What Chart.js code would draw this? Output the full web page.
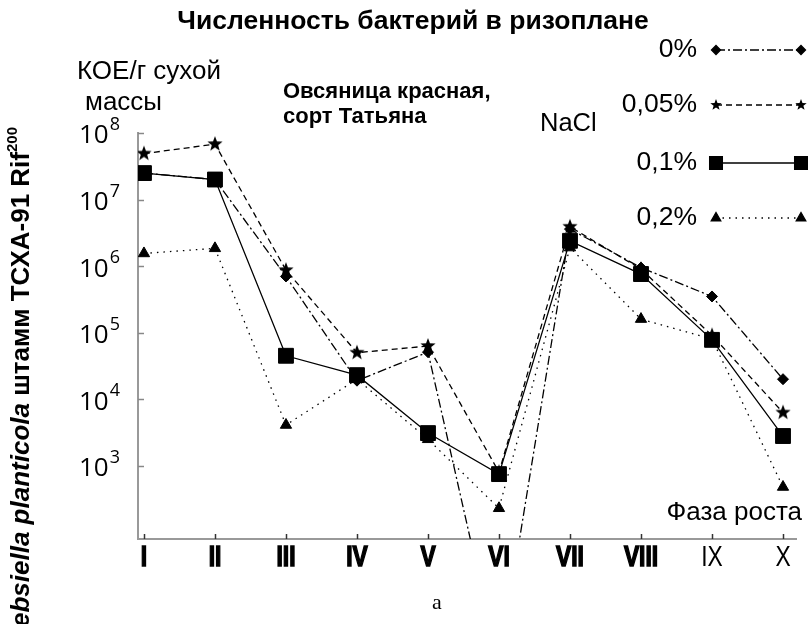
<!DOCTYPE html>
<html>
<head>
<meta charset="utf-8">
<script src="https://cdn.jsdelivr.net/npm/chart.js@4.4.1/dist/chart.umd.min.js"></script>
<style>
  html, body { margin: 0; padding: 0; background: #fff; }
  #wrap { width: 808px; height: 624px; position: relative; }
</style>
</head>
<body>
<div id="wrap"><canvas id="chart"></canvas></div>
<script>
// growth phases (x axis)
const phases = ['I', 'II', 'III', 'IV', 'V', 'VI', 'VII', 'VIII', 'IX', 'X'];
// decades shown on the y axis
const decades = [3, 4, 5, 6, 7, 8];
// CFU per g dry mass, one array per NaCl concentration
const nacl0   = [2.5e7, 2.0e7, 7.0e5, 1.9e4, 5.1e4, 1,     3.6e6, 9.5e5, 3.5e5, 2.0e4];
const nacl005 = [4.9e7, 6.8e7, 8.7e5, 5.0e4, 6.3e4, 8.0e2, 3.9e6, 9.0e5, 9.1e4, 6.3e3];
const nacl01  = [2.5e7, 2.0e7, 4.5e4, 2.3e4, 3.1e3, 7.5e2, 2.4e6, 7.6e5, 7.8e4, 2.8e3];
const nacl02  = [1.55e6, 1.85e6, 4.1e3, 2.0e4, 2.5e3, 2.3e2, 1.9e6, 1.6e5, 8.0e4, 4.8e2];
const seriesLabels = ['0%', '0,05%', '0,1%', '0,2%'];

const SANS = '"Liberation Sans", Arial, sans-serif';

function toPoints(arr) {
  return arr.map((v, i) => ({ x: i + 1, y: v }));
}

// filled five-point star as a point style
function makeStar(r) {
  const c = document.createElement('canvas');
  c.width = c.height = Math.ceil(2 * r + 2);
  const g = c.getContext('2d');
  const cx = c.width / 2, cy = c.height / 2;
  g.beginPath();
  for (let i = 0; i < 10; i++) {
    const rr = i % 2 === 0 ? r : r * 0.42;
    const a = -Math.PI / 2 + i * Math.PI / 5;
    g.lineTo(cx + rr * Math.cos(a), cy + rr * Math.sin(a));
  }
  g.closePath();
  g.fillStyle = '#000';
  g.fill();
  return c;
}
const starBig = makeStar(8);
const starSmall = makeStar(6);

const styles = [
  { dash: [9, 3, 2, 3], point: 'rectRot', radius: 5.5, legendPoint: 'rectRot', legendRadius: 4.5 },
  { dash: [6, 4], point: starBig, radius: 8, legendPoint: starSmall, legendRadius: 6 },
  { dash: [], point: 'rect', radius: 10.5, legendPoint: 'rect', legendRadius: 9 },
  { dash: [1.5, 5], point: 'triangle', radius: 6.5, legendPoint: 'triangle', legendRadius: 5.5 }
];

const allSeries = [nacl0, nacl005, nacl01, nacl02];
const datasets = allSeries.map((arr, i) => ({
  label: seriesLabels[i],
  data: toPoints(arr),
  borderColor: '#000',
  borderWidth: 1.3,
  borderDash: styles[i].dash,
  pointStyle: styles[i].point,
  pointRadius: styles[i].radius,
  pointBackgroundColor: '#000',
  pointBorderColor: '#000',
  pointBorderWidth: 1,
  tension: 0,
  fill: false
}));

// text squeezed horizontally, like a narrow typeface; optional stroke makes it heavier
function narrowText(ctx, text, x, y, sx, heavy) {
  ctx.save();
  ctx.translate(x, y);
  ctx.scale(sx, 1);
  ctx.fillText(text, 0, 0);
  if (heavy) {
    ctx.lineWidth = heavy;
    ctx.strokeStyle = '#000';
    ctx.setLineDash([]);
    ctx.strokeText(text, 0, 0);
  }
  ctx.restore();
}

const textPlugin = {
  id: 'figureText',
  afterDraw(chart) {
    const ctx = chart.ctx;
    const xs = chart.scales.x, ys = chart.scales.y;
    const area = chart.chartArea;
    ctx.save();
    ctx.fillStyle = '#000';

    // inward ticks
    ctx.strokeStyle = '#888';
    ctx.lineWidth = 1.5;
    ctx.setLineDash([]);
    decades.forEach(d => {
      const y = Math.round(ys.getPixelForValue(Math.pow(10, d))) + 0.5;
      ctx.beginPath(); ctx.moveTo(area.left, y); ctx.lineTo(area.left + 6, y); ctx.stroke();
    });
    ctx.strokeStyle = '#333';
    phases.forEach((p, i) => {
      const x = Math.round(xs.getPixelForValue(i + 1)) + 0.5;
      ctx.beginPath(); ctx.moveTo(x, area.bottom); ctx.lineTo(x, area.bottom - 5); ctx.stroke();
    });

    // y tick labels 10^n
    ctx.textBaseline = 'middle';
    ctx.textAlign = 'left';
    decades.forEach(d => {
      const y = ys.getPixelForValue(Math.pow(10, d));
      ctx.font = '26px "Open Sans", sans-serif';
      ctx.fillText('10', 79, y + 3);
      const w = ctx.measureText('10').width;
      ctx.font = '18px "Open Sans", sans-serif';
      ctx.fillText(String(d), 79 + w + 1, y - 8);
    });

    // x tick labels (IX and X are plain in the original)
    ctx.textAlign = 'center';
    phases.forEach((p, i) => {
      const x = xs.getPixelForValue(i + 1);
      const plain = i >= 8;
      ctx.font = (plain ? '' : 'bold ') + '30px ' + SANS;
      narrowText(ctx, p, x, area.bottom + 19, 0.76, plain ? 0 : 1.6);
    });

    // title and annotations
    ctx.font = 'bold 26.5px ' + SANS;
    ctx.fillText('Численность бактерий в ризоплане', 413, 22);
    ctx.textAlign = 'left';
    ctx.font = '26px ' + SANS;
    ctx.fillText('КОЕ/г сухой', 77, 72);
    ctx.fillText('массы', 85, 103);
    ctx.font = 'bold 22px ' + SANS;
    ctx.fillText('Овсяница красная,', 283, 92);
    ctx.fillText('сорт Татьяна', 283, 117);
    ctx.font = '25.5px ' + SANS;
    ctx.fillText('NaCl', 540, 124);
    ctx.textAlign = 'right';
    ctx.font = '26px ' + SANS;
    ctx.fillText('Фаза роста', 802, 513);

    // panel letter
    ctx.textAlign = 'center';
    ctx.font = '22px "Liberation Serif", serif';
    ctx.fillText('а', 437, 603);

    // rotated y axis title
    ctx.save();
    ctx.translate(22, 127);
    ctx.rotate(-Math.PI / 2);
    ctx.textAlign = 'left';
    const parts = [
      { t: 'Klebsiella planticola', f: 'italic bold 26px ' + SANS, dy: 0 },
      { t: ' штамм ТСХА-91 Rif', f: 'bold 26px ' + SANS, dy: 0 },
      { t: '200', f: 'bold 15px ' + SANS, dy: -9 }
    ];
    let total = 0;
    parts.forEach(p => { ctx.font = p.f; p.w = ctx.measureText(p.t).width; total += p.w; });
    let px = -total;
    parts.forEach(p => { ctx.font = p.f; ctx.fillText(p.t, px, p.dy); px += p.w; });
    ctx.restore();

    // legend, right side
    const legendY = [50, 105, 163, 218];
    chart.data.datasets.forEach((ds, i) => {
      const y = legendY[i];
      ctx.textAlign = 'right';
      ctx.font = '26.5px ' + SANS;
      ctx.fillText(ds.label, 697, y);
      ctx.strokeStyle = '#000';
      ctx.lineWidth = 1.3;
      ctx.setLineDash(ds.borderDash);
      ctx.beginPath(); ctx.moveTo(716, y); ctx.lineTo(801, y); ctx.stroke();
      ctx.setLineDash([]);
      [716, 801].forEach(x => {
        Chart.helpers.drawPoint(ctx, {
          pointStyle: styles[i].legendPoint,
          radius: styles[i].legendRadius,
          rotation: 0,
          borderWidth: 1
        }, x, y);
      });
    });
    ctx.restore();
  }
};

const ctx = document.getElementById('chart').getContext('2d');
const chart = new Chart(ctx, {
  type: 'line',
  data: { datasets: datasets },
  options: {
    responsive: true,
    maintainAspectRatio: false,
    animation: false,
    devicePixelRatio: 1,
    layout: { padding: { top: 133, right: 8, left: 0, bottom: 0 } },
    plugins: {
      legend: { display: false },
      tooltip: { enabled: false }
    },
    scales: {
      x: {
        type: 'linear',
        min: 0.916,
        max: 10.19,
        grid: { display: false },
        border: { color: '#999', width: 2 },
        ticks: { display: false },
        afterFit: (scale) => { scale.height = 85; }
      },
      y: {
        type: 'logarithmic',
        min: Math.pow(10, 1.9),
        max: 1e8,
        grid: { display: false },
        border: { color: '#999', width: 2 },
        ticks: { display: false },
        afterFit: (scale) => { scale.width = 138; }
      }
    }
  },
  plugins: [textPlugin]
});
</script>
</body>
</html>
